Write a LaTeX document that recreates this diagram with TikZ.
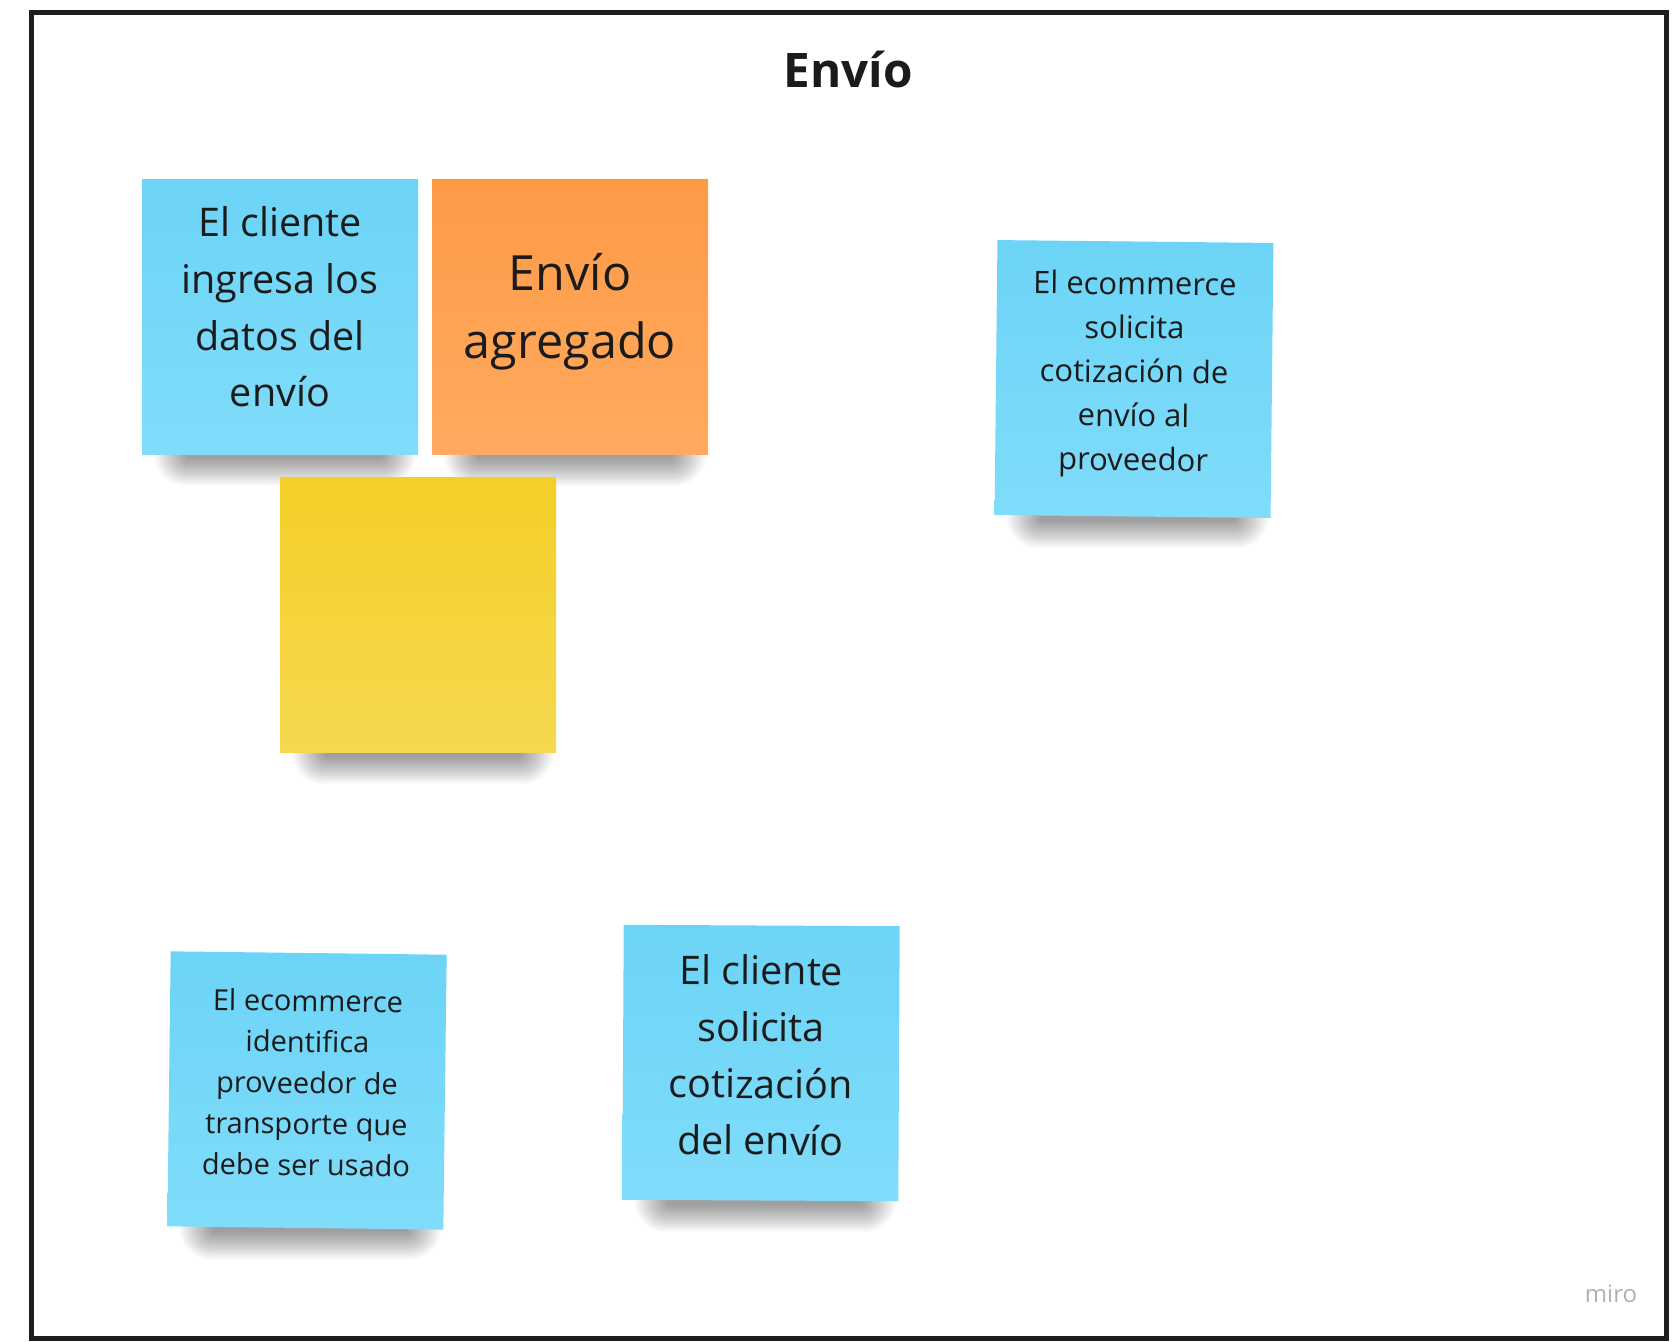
\documentclass[tikz,border=0pt]{standalone}
\usepackage{fontspec}
\setmainfont{Open Sans}
\usetikzlibrary{calc}
\definecolor{bluetop}{HTML}{6CD4F6}
\definecolor{bluebot}{HTML}{80DCFA}
\definecolor{orangetop}{HTML}{FE9A46}
\definecolor{orangebot}{HTML}{FFAA60}
\definecolor{yellowtop}{HTML}{F4CF27}
\definecolor{yellowbot}{HTML}{F5D850}
\definecolor{inkc}{HTML}{1B1B1B}
\definecolor{framec}{HTML}{1E1E1E}
\definecolor{miroc}{HTML}{B0B0BC}
\pgfdeclarelayer{paper}
\pgfdeclarelayer{bg}
\pgfsetlayers{paper,bg,main}
\begin{document}
\begin{tikzpicture}[x=1pt,y=-1pt,
  note/.style={minimum width=276pt, minimum height=275pt, inner sep=0pt, draw=none},
  bluenote/.style={note, top color=bluetop, bottom color=bluebot},
  orangenote/.style={note, top color=orangetop, bottom color=orangebot},
  yellownote/.style={note, top color=yellowtop, bottom color=yellowbot},
  notetext/.style={inner sep=0pt, align=center, text=inkc},
  shadowlayer/.style={fill=black, opacity=0.024, draw=none}
]
\useasboundingbox (0,0) rectangle (1677,1341);
\begin{pgfonlayer}{paper}
\fill[white] (0,0) rectangle (1677,1341);
\end{pgfonlayer}
\draw[framec, line width=5pt] (31.5,12.5) rectangle (1666,1338);

\node[font=\fontsize{47.6}{57}\selectfont\bfseries, text=inkc, anchor=base] (title) at (848,87) {Envío};

\node[bluenote] (n1) at (280,316.5) {};
\node[orangenote] (n2) at (570,317) {};
\node[yellownote] (n3) at (418,615) {};
\node[bluenote, rotate=-0.6] (n4) at (1134,379) {};
\node[bluenote, rotate=-0.7] (n5) at (307,1090.5) {};
\node[bluenote, rotate=-0.3] (n6) at (761,1063) {};

\begin{pgfonlayer}{bg}
\foreach \n in {n1,n2,n3,n4,n5,n6}{
  \foreach \k in {0,...,17}{
    \fill[shadowlayer, rounded corners={1+1.8*\k}]
      ($(\n.south)+({-92-2.0*\k},-24)$) rectangle ($(\n.south)+({102+2.0*\k},{4+1.6*\k})$);
  }
}
\end{pgfonlayer}

\node[notetext, font=\fontsize{39.5}{56.7}\selectfont] (t1) at (280,307) {El cliente\\ingresa los\\datos del\\envío};
\node[notetext, font=\fontsize{48.5}{67.5}\selectfont] (t2) at (570,311.5) {Envío\\agregado};
\node[notetext, font=\fontsize{31}{44}\selectfont, rotate=-0.6] (t4) at (1134,374.5) {El ecommerce\\solicita\\cotización de\\envío al\\proveedor};
\node[notetext, font=\fontsize{29}{41}\selectfont, rotate=-0.7] (t5) at (307,1082.5) {El ecommerce\\identifica\\proveedor de\\transporte que\\debe ser usado};
\node[notetext, font=\fontsize{39.5}{56.7}\selectfont, rotate=-0.3] (t6) at (761,1055) {El cliente\\solicita\\cotización\\del envío};

\node[font=\fontsize{24}{28}\selectfont, text=miroc, anchor=base] (logo) at (1611,1302) {miro};
\end{tikzpicture}
\end{document}
